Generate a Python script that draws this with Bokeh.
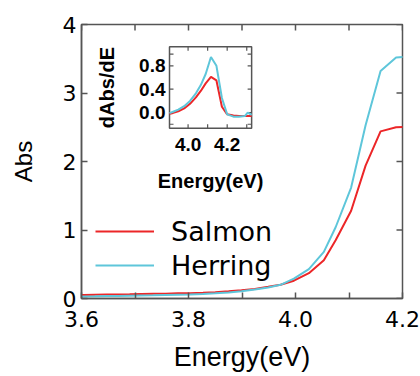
import math
from bokeh.plotting import figure
from bokeh.models import Range1d, FixedTicker, NumeralTickFormatter
from bokeh.core.properties import value
from bokeh.embed import file_html
from bokeh.resources import INLINE

# ---- main spectrum data ----
energy = [3.583, 3.604, 3.625, 3.647, 3.668, 3.690, 3.712, 3.734, 3.757, 3.780,
          3.803, 3.827, 3.850, 3.875, 3.899, 3.924, 3.949, 3.972, 3.997, 4.025,
          4.053, 4.075, 4.104, 4.131, 4.159, 4.188, 4.217]
salmon = [0.050, 0.052, 0.055, 0.058, 0.060, 0.062, 0.065, 0.068, 0.070, 0.075,
          0.078, 0.085, 0.093, 0.105, 0.120, 0.140, 0.170, 0.200, 0.260, 0.370,
          0.560, 0.850, 1.280, 1.940, 2.440, 2.500, 2.510]
herring = [0.025, 0.030, 0.032, 0.035, 0.037, 0.040, 0.043, 0.046, 0.050, 0.054,
           0.058, 0.065, 0.075, 0.088, 0.105, 0.130, 0.160, 0.200, 0.290, 0.430,
           0.680, 1.040, 1.620, 2.530, 3.320, 3.520, 3.530]

# ---- inset derivative data ----
d_energy = [3.905, 3.92, 3.95, 3.98, 4.01, 4.04, 4.065, 4.09, 4.117, 4.145,
            4.173, 4.20, 4.232, 4.26, 4.29, 4.305, 4.325]
d_salmon = [-0.02, -0.01, 0.02, 0.07, 0.15, 0.26, 0.37, 0.50, 0.61, 0.55,
            0.10, -0.03, -0.05, -0.06, -0.06, -0.06, -0.06]
d_herring = [-0.01, 0.01, 0.05, 0.11, 0.20, 0.33, 0.47, 0.66, 0.95, 0.80,
             0.25, -0.03, -0.07, -0.07, -0.06, 0.00, -0.04]

x_ticks = [3.6, 3.8, 4.0, 4.2]
x_minor = [3.7, 3.9, 4.1]
y_ticks = [0, 1, 2, 3, 4]
in_x_ticks = [4.0, 4.1, 4.2, 4.3]
in_x_labels = ["4.0", "4.2"]
in_x_label_pos = [4.0, 4.2]
in_y_ticks = [-0.2, 0.0, 0.4, 0.8, 1.0]
in_y_label_pos = [0.0, 0.4, 0.8]
in_y_labels = ["0.0", "0.4", "0.8"]

RED = "#ec2628"
CYAN = "#5ec6da"
AX = "#555555"
TFONT = "DejaVu Sans"
LFONT = "Liberation Sans"
BFONT = "Liberation Sans"

p = figure(width=420, height=376, output_backend="svg", toolbar_location=None,
           x_range=Range1d(3.6, 4.2), y_range=Range1d(0, 4),
           min_border_left=81, min_border_right=18, min_border_top=24,
           min_border_bottom=78)
p.outline_line_color = AX
p.outline_line_width = 1.5
p.grid.visible = False
p.background_fill_color = "white"

for ax in (p.xaxis[0], p.yaxis[0]):
    ax.axis_line_color = AX
    ax.axis_line_width = 1.5
    ax.major_tick_line_color = AX
    ax.minor_tick_line_color = AX
    ax.major_tick_line_width = 1.5
    ax.minor_tick_line_width = 1.5
    ax.major_tick_in = 6
    ax.major_tick_out = 0
    ax.minor_tick_in = 6
    ax.minor_tick_out = 0
    ax.major_label_text_font = TFONT
    ax.major_label_text_font_size = "22px"
    ax.major_label_text_color = "black"
    ax.axis_label_text_font = LFONT
    ax.axis_label_text_font_style = "normal"
    ax.axis_label_text_color = "black"

p.xaxis[0].ticker = FixedTicker(ticks=x_ticks, minor_ticks=x_minor)
p.xaxis[0].formatter = NumeralTickFormatter(format="0.0")
p.yaxis[0].ticker = FixedTicker(ticks=y_ticks, minor_ticks=[])
p.xaxis[0].axis_label = "Energy(eV)"
p.yaxis[0].axis_label = "Abs"
p.xaxis[0].axis_label_text_font_size = "27px"
p.yaxis[0].axis_label_text_font_size = "24px"
p.xaxis[0].major_label_standoff = 12
p.xaxis[0].axis_label_standoff = 12
p.yaxis[0].major_label_standoff = 5
p.yaxis[0].axis_label_standoff = 23

# inward ticks on the top and right edges of the frame
top_ticks = x_ticks + x_minor
p.ray(x=top_ticks, y=[p.y_range.end] * len(top_ticks), length=6, length_units="screen",
      angle=-math.pi / 2, line_color=AX, line_width=1.5)
p.ray(x=[p.x_range.end] * len(y_ticks), y=y_ticks, length=6, length_units="screen",
      angle=math.pi, line_color=AX, line_width=1.5)

# main curves
p.line(energy, salmon, line_color=RED, line_width=2, legend_label="Salmon")
p.line(energy, herring, line_color=CYAN, line_width=2, legend_label="Herring")

lg = p.legend[0]
lg.location = (14, 16)
lg.border_line_color = None
lg.background_fill_alpha = 0
lg.padding = 0
lg.margin = 0
lg.spacing = 0
lg.glyph_width = 59
lg.glyph_height = 34
lg.label_height = 34
lg.label_standoff = 17
lg.label_text_font = TFONT
lg.label_text_font_size = "27px"
lg.label_text_color = "black"

# ---- inset ----
ix = Range1d(3.905, 4.325)
iy = Range1d(-0.27, 1.125)
ins = p.subplot(x_source=ix, y_source=iy,
                x_target=Range1d(3.7645, 3.918), y_target=Range1d(2.484, 3.674))

ins.quad(left=[ix.start], right=[ix.end], bottom=[iy.start], top=[iy.end],
         fill_color="white", line_color=AX, line_width=1.5)
ins.ray(x=in_x_ticks, y=[iy.start] * len(in_x_ticks), length=4, length_units="screen",
        angle=math.pi / 2, line_color=AX, line_width=1.2)
ins.ray(x=in_x_ticks, y=[iy.end] * len(in_x_ticks), length=4, length_units="screen",
        angle=-math.pi / 2, line_color=AX, line_width=1.2)
ins.ray(x=[ix.start] * len(in_y_ticks), y=in_y_ticks, length=4, length_units="screen",
        angle=0, line_color=AX, line_width=1.2)
ins.ray(x=[ix.end] * len(in_y_ticks), y=in_y_ticks, length=4, length_units="screen",
        angle=math.pi, line_color=AX, line_width=1.2)

ins.line(d_energy, d_salmon, line_color=RED, line_width=2)
ins.line(d_energy, d_herring, line_color=CYAN, line_width=2)

ins.text(x=in_x_label_pos, y=[iy.start] * len(in_x_label_pos), text=in_x_labels,
         y_offset=10, text_align="center", text_baseline="top",
         text_font=value(BFONT), text_font_style="bold", text_font_size="19px",
         text_color="black")
ins.text(x=[ix.start] * len(in_y_label_pos), y=in_y_label_pos, text=in_y_labels,
         x_offset=-4, text_align="right", text_baseline="middle",
         text_font=value(BFONT), text_font_style="bold", text_font_size="19px",
         text_color="black")
ins.text(x=[(ix.start + ix.end) / 2], y=[iy.start], text=["Energy(eV)"],
         y_offset=42, text_align="center", text_baseline="top",
         text_font=value(BFONT), text_font_style="bold", text_font_size="20px",
         text_color="black")
ins.text(x=[ix.start], y=[(iy.start + iy.end) / 2], text=["dAbs/dE"],
         x_offset=-63, angle=math.pi / 2, text_align="center", text_baseline="middle",
         text_font=value(BFONT), text_font_style="bold", text_font_size="20px",
         text_color="black")

open("out.html", "w").write(file_html(p, INLINE))
